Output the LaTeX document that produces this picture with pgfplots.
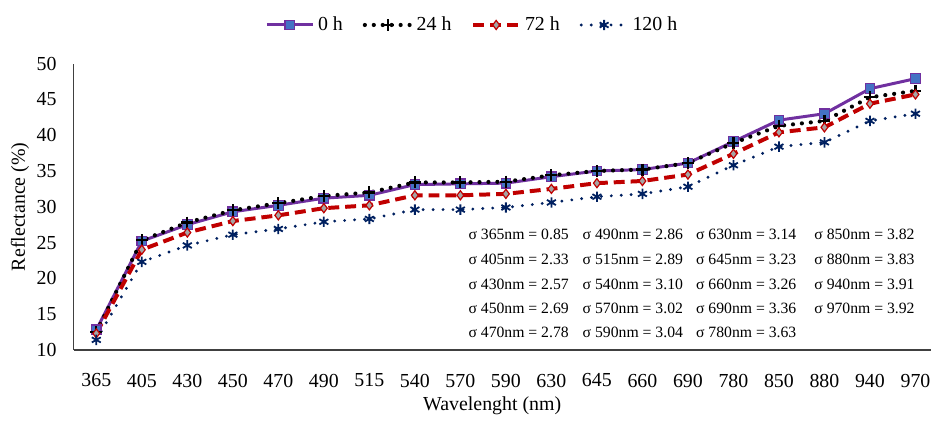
\documentclass[border=0pt]{standalone}
\usepackage{fontspec}
\setmainfont{Liberation Serif}
\usepackage{pgfplots}
\pgfplotsset{compat=1.18}

\definecolor{cPurple}{RGB}{112,48,160}
\definecolor{cBlueFill}{RGB}{68,114,196}
\definecolor{cRed}{RGB}{192,0,0}
\definecolor{cGray}{RGB}{165,165,165}
\definecolor{cNavy}{RGB}{0,32,96}

% reflectance (%) per wavelength index 0..18
\pgfplotstableread{
x  h0    h24   h72   h120
0  12.8  12.5  12.3  11.4
1  25.2  25.3  24.0  22.3
2  27.5  27.8  26.4  24.6
3  29.3  29.5  28.0  26.1
4  30.2  30.5  28.8  26.9
5  31.2  31.5  29.8  27.9
6  31.6  32.0  30.2  28.3
7  33.1  33.4  31.6  29.6
8  33.2  33.4  31.6  29.6
9  33.3  33.5  31.8  29.9
10 34.2  34.4  32.5  30.6
11 35.0  35.0  33.3  31.4
12 35.2  35.2  33.6  31.8
13 36.1  36.1  34.5  32.8
14 39.1  38.9  37.4  35.8
15 42.1  41.3  40.4  38.4
16 43.0  42.0  41.1  39.0
17 46.5  45.3  44.4  42.0
18 47.9  46.2  45.7  43.0
}\refl

\begin{document}
\begin{tikzpicture}
\begin{axis}[
    name=ax,
    scale only axis,
    width=431.5pt, height=144pt,
    xmin=-0.5, xmax=18.35,
    ymin=10, ymax=50,
    axis lines=left,
    axis line style={-, draw=black!75, line width=0.8pt},
    major tick length=0pt,
    xtick={0,...,18},
    xticklabels={365,405,430,450,470,490,515,540,570,590,630,645,660,690,780,850,880,940,970},
    ytick={10,15,...,50},
    tick label style={font=\fontsize{10}{12}\selectfont},
    xticklabel style={yshift=-8.5pt},
    yticklabel style={xshift=-5pt},
    /pgf/number format/assume math mode=true,
    xlabel={Wavelenght (nm)},
    ylabel={Reflectance (\%)},
    label style={font=\fontsize{10}{12}\selectfont},
    xlabel style={at={(rel axis cs:0.488,0)}, anchor=center, yshift=-28pt},
    ylabel style={at={(rel axis cs:0,0.5)}, anchor=center, yshift=27pt},
    clip=false,
    legend columns=4,
    legend style={at={(rel axis cs:0.466,1.135)}, anchor=center, draw=none,
        font=\fontsize{10}{12}\selectfont,
        /tikz/every even column/.append style={column sep=8pt}},
    legend image code/.code={
        \draw[mark repeat=2, mark phase=2] plot coordinates {(0pt,0pt) (11.5pt,0pt) (23pt,0pt)};},
]
\addplot[cPurple, line width=1.5pt, mark=square*,
    mark options={solid, fill=cBlueFill, draw=cPurple, line width=0.6pt}, mark size=2.4pt]
    table[x=x, y=h0] {\refl};
\addplot[black, line width=2.1pt, line cap=round, dash pattern=on 0pt off 4.5pt,
    mark=+, mark options={solid, line width=1.1pt, line cap=butt}, mark size=3pt]
    table[x=x, y=h24] {\refl};
\addplot[cRed, line width=2pt, dash pattern=on 5.5pt off 3pt,
    mark=diamond*, mark options={solid, fill=cGray, draw=cRed, line width=0.6pt}, mark size=2.3pt]
    table[x=x, y=h72] {\refl};
\addplot[cNavy, line width=1.6pt, line cap=round, dash pattern=on 0pt off 5pt,
    mark=asterisk, mark options={solid, line width=0.9pt, line cap=butt}, mark size=2.6pt]
    table[x=x, y=h120] {\refl};
\legend{0 h, 24 h, 72 h, 120 h}

\begin{scope}[every node/.style={anchor=base west, inner sep=0pt, font=\fontsize{7.9}{8}\selectfont}]
\node at (axis cs:8.17,25.42) {σ 365nm = 0.85};
\node at (axis cs:8.17,21.94) {σ 405nm = 2.33};
\node at (axis cs:8.17,18.47) {σ 430nm = 2.57};
\node at (axis cs:8.17,15.14) {σ 450nm = 2.69};
\node at (axis cs:8.17,11.76) {σ 470nm = 2.78};
\node at (axis cs:10.68,25.42) {σ 490nm = 2.86};
\node at (axis cs:10.68,21.94) {σ 515nm = 2.89};
\node at (axis cs:10.68,18.47) {σ 540nm = 3.10};
\node at (axis cs:10.68,15.14) {σ 570nm = 3.02};
\node at (axis cs:10.68,11.76) {σ 590nm = 3.04};
\node at (axis cs:13.17,25.42) {σ 630nm = 3.14};
\node at (axis cs:13.17,21.94) {σ 645nm = 3.23};
\node at (axis cs:13.17,18.47) {σ 660nm = 3.26};
\node at (axis cs:13.17,15.14) {σ 690nm = 3.36};
\node at (axis cs:13.17,11.76) {σ 780nm = 3.63};
\node at (axis cs:15.77,25.42) {σ 850nm = 3.82};
\node at (axis cs:15.77,21.94) {σ 880nm = 3.83};
\node at (axis cs:15.77,18.47) {σ 940nm = 3.91};
\node at (axis cs:15.77,15.14) {σ 970nm = 3.92};
\end{scope}
\end{axis}
\path ([xshift=-37pt, yshift=-31pt]ax.south west) rectangle ([xshift=431.5pt, yshift=176pt]ax.south west);
\end{tikzpicture}
\end{document}
